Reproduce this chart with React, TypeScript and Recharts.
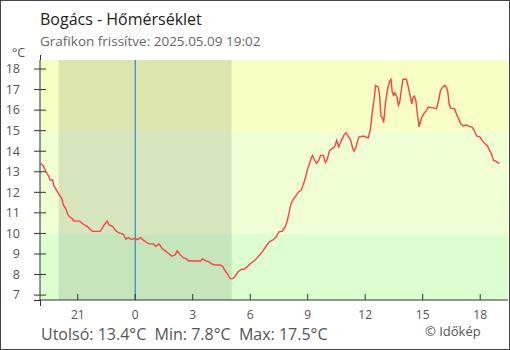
import { LineChart, Line, XAxis, YAxis, ReferenceArea, ReferenceLine } from 'recharts';

// hours relative to midnight (negative = previous evening), temperature in °C
const hours = [
  -4.94, -4.8, -4.66, -4.52, -4.45, -4.31, -4.24, -4.1, -3.97, -3.83, -3.76, -3.62, -3.51, -3.41, -3.27, -3.2,
  -2.89, -2.78, -2.63, -2.5, -2.37, -2.23, -2.02, -1.84, -1.76, -1.63, -1.46, -1.36, -1.18, -1.04, -0.9, -0.77,
  -0.63, -0.49, -0.35, -0.21, 0, 0.1, 0.28, 0.42, 0.59, 0.7, 0.94, 1.08, 1.25, 1.39, 1.57, 1.74, 1.91, 2.09,
  2.19, 2.33, 2.5, 2.68, 2.78, 3.41, 3.51, 3.69, 3.83, 4.0, 4.17, 4.42, 4.56, 4.7, 4.83, 4.95, 5.09, 5.23,
  5.37, 5.51, 5.69, 5.83, 5.97, 6.14, 6.31, 6.49, 6.66, 6.84, 7.01, 7.19, 7.36, 7.5, 7.68, 7.82, 7.92, 8.03,
  8.13, 8.27, 8.41, 8.52, 8.66, 8.76, 8.87, 8.97, 9.08, 9.18, 9.25, 9.36, 9.46, 9.57, 9.67, 9.81, 9.92, 10.02,
  10.13, 10.27, 10.41, 10.51, 10.62, 10.76, 10.9, 11.0, 11.14, 11.24, 11.35, 11.42, 11.52, 11.66, 11.9, 12.05,
  12.15, 12.26, 12.36, 12.47, 12.54, 12.68, 12.75, 12.82, 12.92, 12.96, 13.06, 13.17, 13.27, 13.34, 13.41,
  13.48, 13.55, 13.66, 13.73, 13.8, 13.87, 13.97, 14.15, 14.25, 14.36, 14.43, 14.5, 14.57, 14.64, 14.71, 14.81,
  14.92, 15.06, 15.2, 15.3, 15.58, 15.72, 15.83, 15.93, 16.04, 16.15, 16.24, 16.31, 16.38, 16.45, 16.66, 16.76,
  16.87, 16.98, 17.12, 17.29, 17.36, 17.57, 17.68, 17.82, 17.99, 18.1, 18.24, 18.38, 18.48, 18.59, 18.69,
  18.83, 19.0,
];
const temps = [
  13.4, 13.3, 13.0, 12.8, 12.6, 12.6, 12.3, 12.1, 11.9, 11.7, 11.4, 11.2, 10.9, 10.8, 10.7, 10.6,
  10.6, 10.5, 10.4, 10.35, 10.2, 10.1, 10.1, 10.1, 10.2, 10.4, 10.6, 10.4, 10.35, 10.15, 10.05, 10.0,
  9.97, 9.73, 9.8, 9.7, 9.76, 9.7, 9.8, 9.67, 9.57, 9.49, 9.49, 9.37, 9.49, 9.28, 9.15, 9.02, 8.89, 8.96,
  9.15, 8.98, 8.82, 8.76, 8.66, 8.66, 8.76, 8.66, 8.63, 8.51, 8.46, 8.46, 8.4, 8.17, 8.0, 7.8, 7.8, 7.94,
  8.14, 8.24, 8.27, 8.37, 8.5, 8.62, 8.75, 8.95, 9.14, 9.4, 9.6, 9.68, 9.84, 10.08, 10.11, 10.32, 10.57, 11.02,
  11.46, 11.7, 11.86, 12.02, 12.1, 12.35, 12.67, 13.07, 13.35, 13.67, 13.8, 13.56, 13.4, 13.54, 13.8, 13.8, 13.45, 13.61,
  14.0, 14.13, 14.21, 14.53, 14.21, 14.53, 14.81, 14.9, 14.69, 14.53, 14.13, 14.0, 14.21, 14.69, 14.74, 14.69,
  14.64, 15.02, 15.83, 16.59, 17.2, 17.12, 16.72, 15.71, 15.58, 15.39, 16.39, 17.04, 17.39, 17.5, 16.88,
  16.72, 16.84, 16.63, 16.23, 16.39, 16.88, 17.5, 17.5, 17.12, 16.63, 16.31, 16.63, 16.68, 16.47, 15.91, 15.18,
  15.58, 15.83, 15.99, 16.15, 16.1, 16.07, 16.47, 16.96, 17.12, 17.2, 17.12, 16.88, 16.31, 16.1, 16.07, 15.83,
  15.58, 15.34, 15.23, 15.29, 15.23, 15.18, 15.02, 14.74, 14.69, 14.53, 14.37, 14.26, 14.05, 13.88, 13.56,
  13.51, 13.4,
];

const xTicks = [-3, 0, 3, 6, 9, 12, 15, 18];
const yTicks = [7, 8, 9, 10, 11, 12, 13, 14, 15, 16, 17, 18];
const bandLimits = [10, 15];
const night = [-4, 5.03];

const data = hours.map((h, i) => ({ t: h, temp: temps[i] }));

const xDomain = [-4.97, 19.45];
const yDomain = [6.76, 18.44];

const font = '"Open Sans", sans-serif';

function XTick({ x, y, payload }: any) {
  return (
    <g>
      <line x1={x} x2={x} y1={y - 6} y2={y} stroke="#333" />
      <text x={x} y={y + 19} textAnchor="middle" fontSize={12} fill="#555" fontFamily={font}>
        {(payload.value + 24) % 24}
      </text>
    </g>
  );
}

function YTick({ x, y, payload }: any) {
  return (
    <g>
      <line x1={x - 6} x2={x + 6} y1={y} y2={y} stroke="#333" />
      <text x={x - 20} y={y + 4.3} textAnchor="end" fontSize={12.5} fill="#555" fontFamily={font}>
        {payload.value}
      </text>
    </g>
  );
}

export default function App() {
  return (
    <div style={{ position: 'absolute', left: 0, top: 0, width: 510, height: 350, background: '#fff' }}>
      <LineChart width={510} height={350} data={data} margin={{ top: 60, right: 2, bottom: 30, left: 0 }}>
        <XAxis
          dataKey="t"
          type="number"
          domain={xDomain}
          ticks={xTicks}
          interval={0}
          allowDataOverflow
          height={20}
          tickLine={false}
          tickSize={0}
          tickMargin={0}
          tick={<XTick />}
          stroke="#333"
        />
        <YAxis
          type="number"
          domain={yDomain}
          ticks={yTicks}
          interval={0}
          allowDataOverflow
          width={40}
          tickLine={false}
          tickSize={0}
          tickMargin={0}
          tick={<YTick />}
          stroke="#333"
        />
        <ReferenceArea x1={xDomain[0]} x2={xDomain[1]} y1={yDomain[0]} y2={bandLimits[0]} fill="#dcffd0" fillOpacity={1} stroke="none" />
        <ReferenceArea x1={xDomain[0]} x2={xDomain[1]} y1={bandLimits[0]} y2={bandLimits[1]} fill="#f0ffd3" fillOpacity={1} stroke="none" />
        <ReferenceArea x1={xDomain[0]} x2={xDomain[1]} y1={bandLimits[1]} y2={yDomain[1]} fill="#f7ffc3" fillOpacity={1} stroke="none" />
        <ReferenceArea x1={night[0]} x2={night[1]} y1={yDomain[0]} y2={yDomain[1]} fill="#000" fillOpacity={0.1} stroke="none" />
        <ReferenceLine x={0} stroke="#2a8ad6" strokeWidth={1.2} />
        <Line
          type="linear"
          dataKey="temp"
          stroke="#ff4040"
          strokeWidth={1.4}
          dot={false}
          isAnimationActive={false}
        />
      </LineChart>
      <svg width={510} height={350} style={{ position: 'absolute', left: 0, top: 0, pointerEvents: 'none' }}>
        <rect x={0.5} y={0.5} width={509} height={349} fill="none" stroke="#444" />
        <line x1={40.5} x2={40.5} y1={55} y2={60} stroke="#333" />
        <line x1={40.5} x2={40.5} y1={300} y2={306} stroke="#333" />
        <line x1={34} x2={40} y1={300.5} y2={300.5} stroke="#333" />
        <text x={40} y={24.5} fontSize={16} fill="#222" fontFamily={font}>Bogács - Hőmérséklet</text>
        <text x={40} y={46} fontSize={13.5} fill="#666" fontFamily={font}>Grafikon frissítve: 2025.05.09 19:02</text>
        <text x={12} y={56.5} fontSize={12.5} fill="#555" fontFamily={font}>°C</text>
        <text x={41} y={339.5} fontSize={16} fill="#555" fontFamily={font} style={{ whiteSpace: 'pre' }}>
          Utolsó: 13.4°C  Min: 7.8°C  Max: 17.5°C
        </text>
        <text x={425} y={336} fontSize={13} fill="#555" fontFamily={font}>© Időkép</text>
      </svg>
    </div>
  );
}
